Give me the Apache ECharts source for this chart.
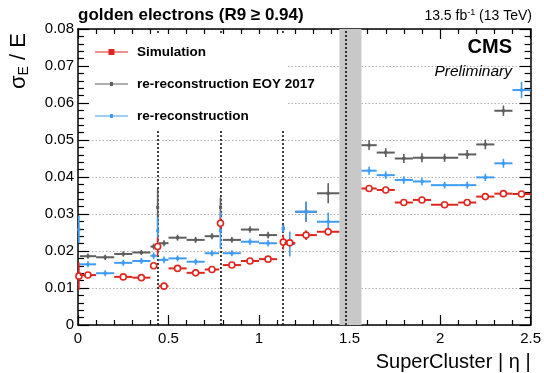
<!DOCTYPE html>
<html>
<head>
<meta charset="utf-8">
<script src="https://cdn.jsdelivr.net/npm/echarts@6/dist/echarts.min.js"></script>
<style>
html,body{margin:0;padding:0;background:#fff;}
#chart{width:544px;height:373px;}
</style>
</head>
<body>
<div id="chart"></div>
<script>
// ---- bins in |eta| ----
const binLo     = [0.000, 0.010, 0.100, 0.200, 0.300, 0.400, 0.435, 0.445, 0.500, 0.600, 0.700, 0.782, 0.800, 0.900, 1.000, 1.129, 1.140, 1.200, 1.320, 1.566, 1.650, 1.750, 1.850, 1.950, 2.100, 2.200, 2.300, 2.400];
const binHi     = [0.010, 0.100, 0.200, 0.300, 0.400, 0.435, 0.445, 0.500, 0.600, 0.700, 0.780, 0.792, 0.900, 1.000, 1.100, 1.139, 1.200, 1.320, 1.444, 1.650, 1.750, 1.850, 1.950, 2.100, 2.200, 2.300, 2.400, 2.500];
const binCenter = [0.005, 0.055, 0.150, 0.250, 0.350, 0.418, 0.440, 0.475, 0.550, 0.650, 0.740, 0.787, 0.850, 0.950, 1.050, 1.134, 1.170, 1.260, 1.382, 1.608, 1.700, 1.800, 1.900, 2.025, 2.150, 2.250, 2.350, 2.450];

// ---- series values (sigma_E / E) ----
const simValues    = [0.0132, 0.0135, null,   0.0130, 0.0128, 0.0160, 0.0212, 0.0105, 0.0153, 0.0141, 0.0150, 0.0275, 0.0162, 0.0173, 0.0178, 0.0224, 0.0222, 0.0243, 0.0252, 0.0369, 0.0365, 0.0331, 0.0338, 0.0325, 0.0331, 0.0347, 0.0355, 0.0354];
const simErrors    = [0.0037, 0.0004, 0.0004, 0.0004, 0.0004, 0.0008, 0.0025, 0.0006, 0.0005, 0.0005, 0.0005, 0.0015, 0.0005, 0.0006, 0.0006, 0.0020, 0.0008, 0.0013, 0.0011, 0.0008, 0.0008, 0.0007, 0.0007, 0.0006, 0.0006, 0.0007, 0.0007, 0.0007];
const eoyValues    = [null,   0.0186, 0.0183, 0.0192, 0.0196, 0.0212, 0.0318, 0.0221, 0.0236, 0.0230, 0.0240, 0.0318, 0.0230, 0.0258, 0.0243, 0.0261, null,   0.0306, 0.0356, 0.0486, 0.0466, 0.0450, 0.0452, 0.0452, 0.0461, 0.0488, 0.0579, null];
const eoyErrors    = [0,      0.0007, 0.0007, 0.0007, 0.0007, 0.0008, 0.0050, 0.0008, 0.0008, 0.0008, 0.0008, 0.0027, 0.0008, 0.0009, 0.0009, 0.0010, 0,      0.0027, 0.0027, 0.0013, 0.0012, 0.0012, 0.0012, 0.0011, 0.0012, 0.0013, 0.0014, 0];
const rerecoValues = [0.0258, 0.0164, 0.0140, 0.0168, 0.0173, 0.0187, 0.0255, 0.0176, 0.0180, 0.0171, 0.0194, 0.0255, 0.0194, 0.0225, 0.0221, 0.0260, 0.0219, 0.0306, 0.0279, 0.0417, 0.0405, 0.0392, 0.0388, 0.0378, 0.0378, 0.0399, 0.0437, 0.0635];
const rerecoErrors = [0.0037, 0.0008, 0.0008, 0.0008, 0.0008, 0.0009, 0.0035, 0.0009, 0.0008, 0.0008, 0.0008, 0.0050, 0.0008, 0.0009, 0.0009, 0.0009, 0.0034, 0.0027, 0.0025, 0.0011, 0.0010, 0.0010, 0.0010, 0.0009, 0.0009, 0.0010, 0.0012, 0.0022];

const seriesNames = ['Simulation', 're-reconstruction EOY 2017', 're-reconstruction'];
const xTickLabels = ['0', '0.5', '1', '1.5', '2', '2.5'];
const yTickLabels = ['0', '0.01', '0.02', '0.03', '0.04', '0.05', '0.06', '0.07', '0.08'];
const moduleBoundaries = [0.440, 0.787, 1.134, 1.479];
const gapRange = [1.4442, 1.566];

const FONT = '"Liberation Sans", Arial, Helvetica, sans-serif';
const RED = '#e0251f', GRAY = '#5e5e5e', BLUE = '#3f9cf5';

function buildData(values, errors) {
  const out = [];
  for (let i = 0; i < values.length; i++) {
    if (values[i] === null) continue;
    out.push([binCenter[i], binLo[i], binHi[i], values[i], errors[i]]);
  }
  return out;
}

function makeRender(color, circle) {
  return function (params, api) {
    const c = api.value(0), lo = api.value(1), hi = api.value(2), v = api.value(3), e = api.value(4);
    const pL = api.coord([lo, v]), pR = api.coord([hi, v]), pC = api.coord([c, v]);
    const pT = api.coord([c, v + e]), pB = api.coord([c, v - e]);
    const top = Math.min(pT[1], pC[1] - 2.5), bot = Math.max(pB[1], pC[1] + 2.5);
    const ls = { stroke: color, lineWidth: 2 };
    const children = [
      { type: 'line', shape: { x1: pL[0], y1: pL[1], x2: pR[0], y2: pR[1] }, style: ls },
      { type: 'line', shape: { x1: pC[0], y1: top, x2: pC[0], y2: bot }, style: { stroke: color, lineWidth: 1.6 } }
    ];
    if (circle) {
      children.push({ type: 'circle', shape: { cx: pC[0], cy: pC[1], r: 3 }, style: { fill: '#fff', stroke: color, lineWidth: 1.6 } });
    } else {
      children.push({ type: 'rect', shape: { x: pC[0] - 1.5, y: pC[1] - 1.5, width: 3, height: 3 }, style: { fill: color } });
    }
    return { type: 'group', children: children };
  };
}

const tickStyle = { color: '#000', width: 1.2 };
const axisLineStyle = { color: '#000', width: 1.5 };

const chart = echarts.init(document.getElementById('chart'), null, { renderer: 'canvas' });
chart.setOption({
  animation: false,
  backgroundColor: '#fff',
  textStyle: { fontFamily: FONT },
  grid: { left: 78, right: 12, top: 29, bottom: 48 },
  title: [
    { text: 'golden electrons (R9 ≥ 0.94)', left: 78, top: 7, padding: 0,
      textStyle: { fontFamily: FONT, fontSize: 17, fontWeight: 'bold', color: '#000' } },
    { text: '13.5 fb{sup|-1} (13 TeV)', right: 12, top: 8, padding: 0,
      textStyle: { fontFamily: FONT, fontSize: 14, fontWeight: 'normal', color: '#000',
        rich: { sup: { fontFamily: FONT, fontSize: 9, color: '#000', padding: [0, 0, 8, 0] } } } },
    { text: 'CMS', right: 32, top: 37, padding: 0,
      textStyle: { fontFamily: FONT, fontSize: 20, fontWeight: 'bold', color: '#000' } },
    { text: 'Preliminary', right: 32, top: 64, padding: 0,
      textStyle: { fontFamily: FONT, fontSize: 15.5, fontStyle: 'italic', fontWeight: 'normal', color: '#000' } }
  ],
  legend: {
    data: seriesNames,
    orient: 'vertical',
    left: 95, top: 45,
    itemWidth: 33, itemHeight: 8, itemGap: 18,
    padding: 0,
    z: 12,
    textStyle: { fontFamily: FONT, fontSize: 13.5, fontWeight: 'bold', color: '#000', padding: [0, 0, 0, 4] },
    selectedMode: false
  },
  graphic: [
    { type: 'rect', left: 89, top: 34, z: 10, shape: { width: 197, height: 96 }, style: { fill: '#fff' }, silent: true },
    { type: 'text', x: 19, y: 61, rotation: Math.PI / 2, z: 10,
      style: { text: '{a|σ}{b|E}{a| / E}', align: 'center', verticalAlign: 'middle',
        rich: { a: { fontFamily: FONT, fontSize: 22, fill: '#000', color: '#000' },
                b: { fontFamily: FONT, fontSize: 14, fill: '#000', color: '#000', padding: [11, 0, 0, 0] } } } }
  ],
  xAxis: [
    { type: 'value', min: 0, max: 2.5, interval: 0.5, position: 'bottom',
      name: 'SuperCluster | η |', nameLocation: 'end', nameGap: 0,
      nameTextStyle: { fontFamily: FONT, fontSize: 20, color: '#000', align: 'right', verticalAlign: 'top', padding: [27, 0, 0, 0] },
      axisLine: { show: true, onZero: false, lineStyle: axisLineStyle },
      axisTick: { show: true, inside: true, length: 10, lineStyle: tickStyle },
      minorTick: { show: true, splitNumber: 5, length: 5, lineStyle: tickStyle },
      axisLabel: { fontFamily: FONT, fontSize: 15, color: '#000', margin: 6,
        formatter: function (v) { return xTickLabels[Math.round(v / 0.5)]; } },
      splitLine: { show: false } },
    { type: 'value', min: 0, max: 2.5, interval: 0.5, position: 'top',
      axisLine: { show: true, onZero: false, lineStyle: axisLineStyle },
      axisTick: { show: true, inside: true, length: 10, lineStyle: tickStyle },
      minorTick: { show: true, splitNumber: 5, length: 5, lineStyle: tickStyle },
      axisLabel: { show: false }, splitLine: { show: false } }
  ],
  yAxis: [
    { type: 'value', min: 0, max: 0.08, interval: 0.01, position: 'left',
      axisLine: { show: true, onZero: false, lineStyle: axisLineStyle },
      axisTick: { show: true, inside: true, length: 11, lineStyle: tickStyle },
      minorTick: { show: true, splitNumber: 5, length: 6, lineStyle: tickStyle },
      axisLabel: { fontFamily: FONT, fontSize: 15, color: '#000', margin: 4,
        formatter: function (v) { return yTickLabels[Math.round(v / 0.01)]; } },
      splitLine: { show: true, lineStyle: { color: '#b0b0b0', width: 1, type: [1.5, 2] } } },
    { type: 'value', min: 0, max: 0.08, interval: 0.01, position: 'right',
      axisLine: { show: true, onZero: false, lineStyle: axisLineStyle },
      axisTick: { show: true, inside: true, length: 11, lineStyle: tickStyle },
      minorTick: { show: true, splitNumber: 5, length: 6, lineStyle: tickStyle },
      axisLabel: { show: false }, splitLine: { show: false } }
  ],
  series: [
    { type: 'line', name: 'guides', data: [], z: 1, silent: true,
      markArea: { silent: true, z: 1, itemStyle: { color: '#c8c8c8' },
        data: [[{ xAxis: gapRange[0] }, { xAxis: gapRange[1] }]] },
      markLine: { silent: true, z: 2, symbol: ['none', 'none'], label: { show: false },
        lineStyle: { color: '#000', width: 1.5, type: [2, 2] },
        data: moduleBoundaries.map(function (b) { return { xAxis: b }; }) } },
    { type: 'custom', name: seriesNames[1], z: 6, itemStyle: { color: GRAY },
      renderItem: makeRender(GRAY, false), encode: { x: [0, 1, 2], y: 3 },
      data: buildData(eoyValues, eoyErrors) },
    { type: 'custom', name: seriesNames[2], z: 7, itemStyle: { color: BLUE },
      renderItem: makeRender(BLUE, false), encode: { x: [0, 1, 2], y: 3 },
      data: buildData(rerecoValues, rerecoErrors) },
    { type: 'custom', name: seriesNames[0], z: 8, itemStyle: { color: RED },
      renderItem: makeRender(RED, true), encode: { x: [0, 1, 2], y: 3 },
      data: buildData(simValues, simErrors) }
  ]
});
// legend icons: line with a marker
chart.setOption({
  legend: {
    data: [
      { name: seriesNames[0], icon: 'path://M0,3.4H13.5V1H19.5V3.4H33V4.6H19.5V7H13.5V4.6H0Z' },
      { name: seriesNames[1], icon: 'path://M0,3.4H15V2H18V3.4H33V4.6H18V6H15V4.6H0Z' },
      { name: seriesNames[2], icon: 'path://M0,3.4H15V2H18V3.4H33V4.6H18V6H15V4.6H0Z' }
    ]
  }
});
</script>
</body>
</html>
